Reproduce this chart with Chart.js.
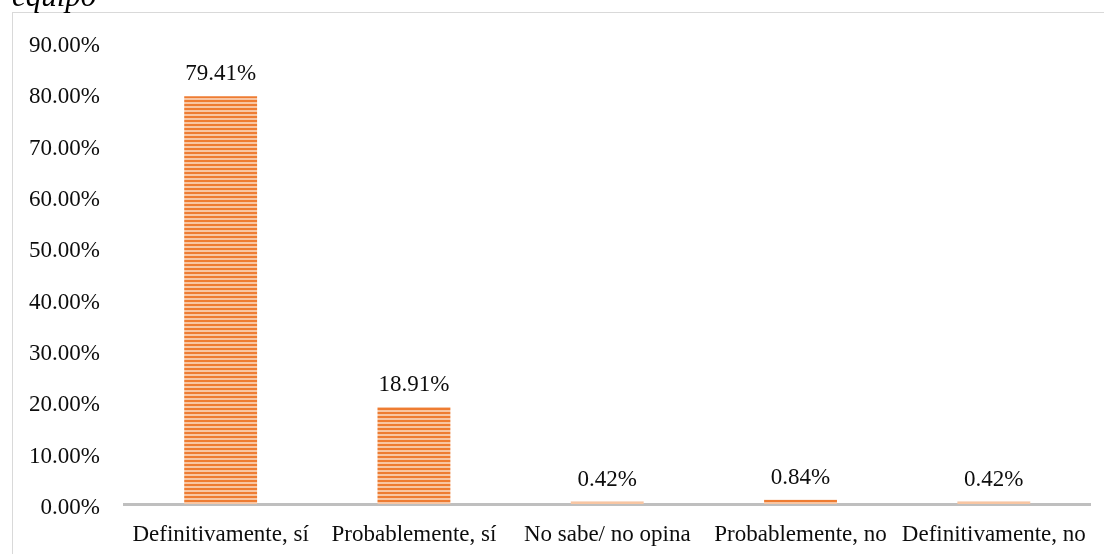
<!DOCTYPE html>
<html>
<head>
<meta charset="utf-8">
<script src="https://cdn.jsdelivr.net/npm/chart.js@4/dist/chart.umd.min.js"></script>
<style>
  html, body { margin: 0; padding: 0; background: #ffffff; }
  #wrap { position: relative; width: 1104px; height: 554px; overflow: hidden; }
  canvas { display: block; }
</style>
</head>
<body>
<div id="wrap"><canvas id="c" width="1104" height="554"></canvas></div>
<script>
// Survey answers and their shares (%)
const categories = ["Definitivamente, sí", "Probablemente, sí", "No sabe/ no opina", "Probablemente, no", "Definitivamente, no"];
const shares = [79.41, 18.91, 0.42, 0.84, 0.42];
const yMin = 0;
const yMax = 90;
const yStep = 10;
const captionText = "equipo";

const FONT = '"Liberation Serif", "Times New Roman", serif';

// horizontal stripe fill for the bars
function stripeFill(ctx) {
  const p = document.createElement('canvas');
  p.width = 4; p.height = 4;
  const g = p.getContext('2d');
  g.fillStyle = '#F8C6A3';
  g.fillRect(0, 0, 4, 4);
  g.fillStyle = '#EE7C32';
  g.fillRect(0, 0, 4, 2);
  return ctx.createPattern(p, 'repeat');
}

// frame and cut-off caption above the plot
const framePlugin = {
  id: 'frame',
  beforeDraw(chart) {
    const ctx = chart.ctx;
    ctx.save();
    ctx.fillStyle = '#ffffff';
    ctx.fillRect(0, 0, chart.width, chart.height);
    ctx.strokeStyle = '#d9d9d9';
    ctx.lineWidth = 1;
    ctx.strokeRect(12.5, 12.5, chart.width + 10, chart.height + 10);
    ctx.fillStyle = '#000000';
    ctx.font = 'italic 31px ' + FONT;
    ctx.textBaseline = 'alphabetic';
    ctx.textAlign = 'left';
    ctx.fillText(captionText, 12, 6);
    ctx.restore();
  }
};

// value labels above each bar
const valueLabels = {
  id: 'valueLabels',
  afterDatasetsDraw(chart) {
    const ctx = chart.ctx;
    const meta = chart.getDatasetMeta(0);
    const data = chart.data.datasets[0].data;
    ctx.save();
    ctx.fillStyle = '#0d0d0d';
    ctx.font = '23px ' + FONT;
    ctx.textAlign = 'center';
    ctx.textBaseline = 'middle';
    meta.data.forEach((bar, i) => {
      ctx.fillText(data[i].toFixed(2) + '%', bar.x, bar.y - 22);
    });
    ctx.restore();
  }
};

const ctx = document.getElementById('c').getContext('2d');
new Chart(ctx, {
  type: 'bar',
  data: {
    labels: categories,
    datasets: [{
      data: shares,
      backgroundColor: stripeFill(ctx),
      borderWidth: 0,
      barPercentage: 0.377,
      categoryPercentage: 1.0
    }]
  },
  options: {
    responsive: false,
    animation: false,
    layout: { padding: { left: 0, right: 12, top: 42, bottom: 0 } },
    plugins: {
      legend: { display: false },
      tooltip: { enabled: false },
      title: { display: false }
    },
    scales: {
      x: {
        z: 1,
        grid: { display: false, drawTicks: false },
        border: { display: true, color: '#bfbfbf', width: 3 },
        ticks: {
          color: '#0d0d0d',
          font: { family: FONT, size: 23 },
          padding: 17,
          maxRotation: 0,
          autoSkip: false
        },
        afterFit(scale) { scale.height = 50; }
      },
      y: {
        min: yMin,
        max: yMax,
        grid: { display: false, drawTicks: false },
        border: { display: false },
        ticks: {
          stepSize: yStep,
          color: '#0d0d0d',
          font: { family: FONT, size: 23 },
          padding: 24,
          labelOffset: 4,
          callback: (v) => Number(v).toFixed(2) + '%'
        },
        afterFit(scale) { scale.width = 124; }
      }
    }
  },
  plugins: [framePlugin, valueLabels]
});
</script>
</body>
</html>
